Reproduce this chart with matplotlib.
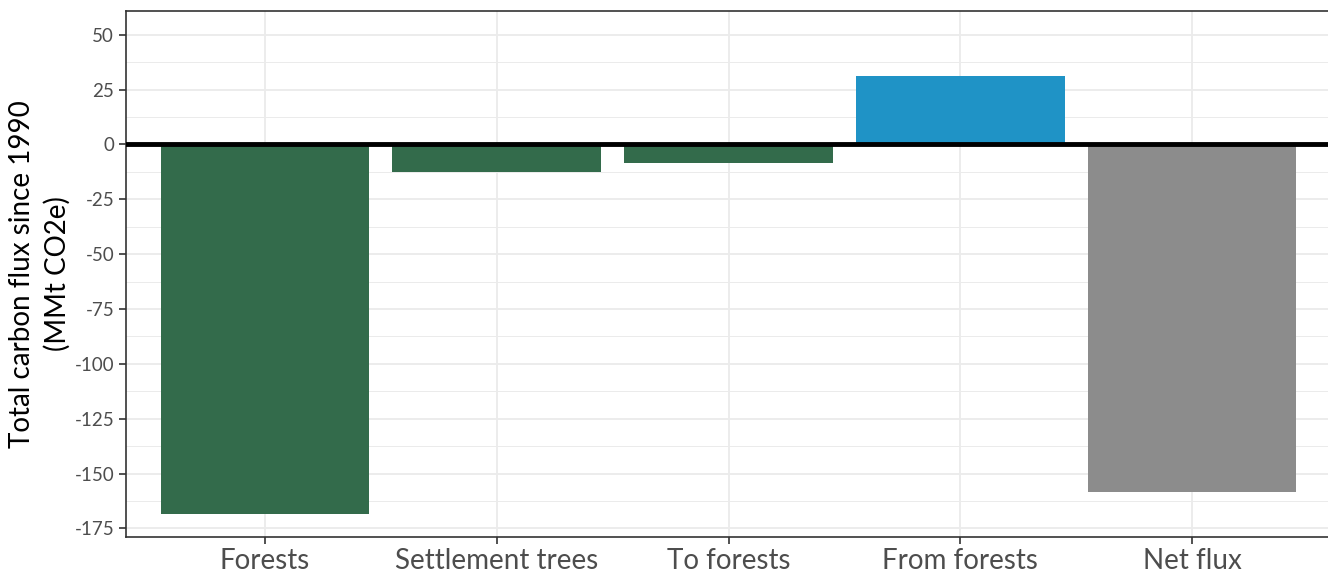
import matplotlib.pyplot as plt

categories = ["Forests", "Settlement trees", "To forests", "From forests", "Net flux"]
flux = [-168.6, -12.6, -8.5, 31.3, -158.5]
bar_colors = ["#336b4b", "#336b4b", "#336b4b", "#1f93c6", "#8c8c8c"]
yticks = [50, 25, 0, -25, -50, -75, -100, -125, -150, -175]

plt.rcParams['font.family'] = ['Lato', 'DejaVu Sans']

fig = plt.figure(figsize=(13.28, 5.73), dpi=100)
ax = fig.add_axes([126 / 1328, 1 - 537 / 573, (1331 - 126) / 1328, (537 - 11) / 573])

x = list(range(len(categories)))
ax.bar(x, flux, width=0.9, color=bar_colors, zorder=2)
ax.axhline(0, color="black", linewidth=3.5, zorder=3)

ax.set_xticks(x)
ax.set_xticklabels(categories, fontsize=20, color="#4d4d4d")
ax.set_yticks(yticks)
ax.set_yticklabels([str(v) for v in yticks], fontsize=13.5, color="#4d4d4d")
ax.set_yticks([v + 12.5 for v in yticks[1:]], minor=True)
ax.set_xlim(-0.6, 4.6)
ax.set_ylim(-178.9, 60.8)

ax.grid(True, which="major", color="#ebebeb", linewidth=1.3, zorder=0)
ax.grid(True, which="minor", axis="y", color="#ebebeb", linewidth=0.7, zorder=0)
ax.set_axisbelow(True)
ax.tick_params(axis="both", which="major", length=5, width=1.2, color="#333333")
ax.tick_params(axis="x", pad=3)
ax.tick_params(which="minor", length=0)
for s in ax.spines.values():
    s.set_color("#333333")
    s.set_linewidth(1.2)

ax.set_ylabel("Total carbon flux since 1990\n(MMt CO2e)", fontsize=20, color="black",
              linespacing=1.4, labelpad=3)

fig.savefig("out.png", dpi=100)
